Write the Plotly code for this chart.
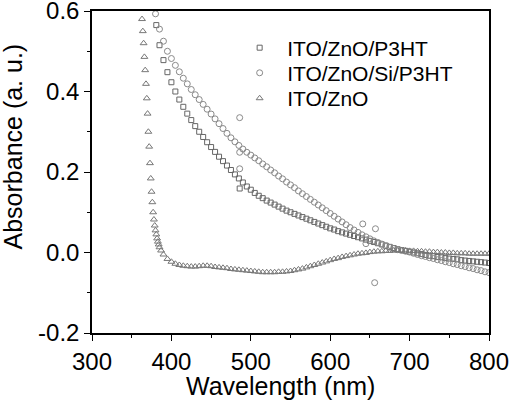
import plotly.graph_objects as go

# ---------------- data ----------------
# ITO/ZnO (triangles)
zno_wl = [363, 364, 365, 366, 367, 368, 369, 370, 371, 372, 373, 374, 375, 376, 377, 378, 379, 380,
          381, 382, 383, 384, 385, 387, 390, 395, 400, 405, 410, 415, 420, 425, 430, 435, 440, 445,
          450, 455, 460, 465, 470, 475, 480, 485, 490, 495, 500, 505, 510, 515, 520, 525, 530, 535,
          540, 545, 550, 555, 560, 565, 570, 575, 580, 585, 590, 595, 600, 605, 610, 615, 620, 625,
          630, 635, 640, 645, 650, 655, 660, 665, 670, 675, 680, 685, 690, 695, 700, 705, 710, 715,
          720, 725, 730, 735, 740, 745, 750, 755, 760, 765, 770, 775, 780, 785, 790, 795, 800]
zno_abs = [0.58, 0.55, 0.52, 0.486, 0.453, 0.419, 0.383, 0.345, 0.30, 0.263, 0.222, 0.184, 0.151,
           0.125, 0.10, 0.082, 0.067, 0.055,
           0.045, 0.035, 0.027, 0.020, 0.013, 0.005, -0.005, -0.016, -0.023, -0.028, -0.031, -0.033,
           -0.034, -0.035, -0.035, -0.034, -0.033, -0.033, -0.034, -0.036, -0.037, -0.038, -0.039,
           -0.041, -0.042, -0.043, -0.044, -0.045, -0.046, -0.047, -0.048, -0.049, -0.049, -0.049,
           -0.049, -0.048, -0.048, -0.047, -0.046, -0.044, -0.042, -0.040, -0.037, -0.034, -0.031,
           -0.028, -0.025, -0.022, -0.019, -0.016, -0.014, -0.011, -0.009, -0.007, -0.005, -0.003,
           -0.002, -0.001, 0.001, 0.002, 0.003, 0.003, 0.004, 0.004, 0.005, 0.005, 0.005, 0.005,
           0.004, 0.004, 0.003, 0.003, 0.002, 0.002, 0.001, 0.001, 0.000, 0.000, -0.001, -0.001,
           -0.002, -0.002, -0.002, -0.003, -0.003, -0.003, -0.003, -0.003, -0.003]

# ITO/ZnO/P3HT (squares)
p3ht_wl = [381, 385, 390, 395, 400, 405, 410, 415, 420, 425, 430, 435, 440, 445, 450, 455, 460, 465,
           470, 475, 480, 485, 486, 490, 495, 500, 505, 510, 515, 520, 525, 530, 535, 540, 545, 550,
           555, 560, 565, 570, 575, 580, 585, 590, 595, 600, 605, 610, 615, 620, 625, 630, 635, 640,
           645, 650, 655, 660, 665, 670, 675, 680, 685, 690, 695, 700, 705, 710, 715, 720, 725, 730,
           735, 740, 745, 750, 755, 760, 765, 770, 775, 780, 785, 790, 795, 800]
p3ht_abs = [0.565, 0.515, 0.478, 0.448, 0.423, 0.400, 0.380, 0.362, 0.345, 0.329, 0.314, 0.300,
            0.287, 0.274, 0.262, 0.250, 0.238, 0.227, 0.216, 0.205, 0.194, 0.184, 0.159, 0.174,
            0.164, 0.156, 0.148, 0.141, 0.135, 0.129, 0.124, 0.119, 0.114, 0.109, 0.104, 0.100,
            0.096, 0.092, 0.088, 0.084, 0.080, 0.076, 0.072, 0.068, 0.064, 0.060, 0.057, 0.053,
            0.050, 0.047, 0.044, 0.041, 0.038, 0.035, 0.032, 0.029, 0.026, 0.023, 0.020, 0.017,
            0.014, 0.011, 0.008, 0.006, 0.004, 0.002, 0.000, -0.002, -0.004, -0.006, -0.008,
            -0.009, -0.011, -0.012, -0.014, -0.015, -0.016, -0.017, -0.019, -0.020, -0.021,
            -0.022, -0.023, -0.024, -0.025, -0.026]

# ITO/ZnO/Si/P3HT (circles)
si_wl = [380, 385, 390, 395, 400, 405, 410, 415, 420, 425, 430, 435, 440, 445, 450, 455, 460, 465,
         470, 475, 480, 485, 486, 486, 486, 490, 495, 500, 505, 510, 515, 520, 525, 530, 535, 540,
         545, 550, 555, 560, 565, 570, 575, 580, 585, 590, 595, 600, 605, 610, 615, 620, 625, 630,
         635, 640, 641, 645, 645, 650, 655, 656, 657, 660, 665, 670, 675, 680, 685, 690, 695, 700,
         705, 710, 715, 720, 725, 730, 735, 740, 745, 750, 755, 760, 765, 770, 775, 780, 785, 790,
         795, 800]
si_abs = [0.593, 0.555, 0.525, 0.500, 0.482, 0.465, 0.449, 0.433, 0.419, 0.405, 0.392, 0.380,
          0.368, 0.356, 0.344, 0.332, 0.320, 0.308, 0.296, 0.285, 0.275, 0.266, 0.335, 0.249,
          0.208, 0.257, 0.249, 0.242, 0.235, 0.228, 0.220, 0.213, 0.205, 0.198, 0.190, 0.183,
          0.175, 0.168, 0.161, 0.153, 0.146, 0.139, 0.132, 0.125, 0.118, 0.111, 0.104, 0.097,
          0.090, 0.083, 0.076, 0.069, 0.062, 0.056, 0.050, 0.044, 0.071, 0.039, 0.022, 0.034,
          0.029, -0.075, 0.059, 0.025, 0.021, 0.017, 0.013, 0.010, 0.007, 0.005, 0.003, 0.001,
          -0.002, -0.005, -0.008, -0.010, -0.013, -0.015, -0.018, -0.020, -0.023, -0.025, -0.028,
          -0.030, -0.033, -0.035, -0.038, -0.040, -0.043, -0.045, -0.048, -0.050]

x_ticks = [300, 400, 500, 600, 700, 800]
y_ticks = [-0.2, 0.0, 0.2, 0.4, 0.6]
y_tick_text = ["-0.2", "0.0", "0.2", "0.4", "0.6"]

FONT = "Arial, Liberation Sans, sans-serif"

fig = go.Figure()
fig.add_trace(go.Scatter(x=p3ht_wl, y=p3ht_abs, mode="markers", name="ITO/ZnO/P3HT",
                         legend="legend",
                         marker=dict(symbol="square-open", size=5, color="#666666",
                                     line=dict(width=1))))
fig.add_trace(go.Scatter(x=si_wl, y=si_abs, mode="markers", name="ITO/ZnO/Si/P3HT",
                         legend="legend2",
                         marker=dict(symbol="circle-open", size=6, color="#8a8a8a",
                                     line=dict(width=1))))
fig.add_trace(go.Scatter(x=zno_wl, y=zno_abs, mode="markers", name="ITO/ZnO",
                         legend="legend3",
                         marker=dict(symbol="triangle-up-open", size=6, color="#777777",
                                     line=dict(width=1))))

axis_common = dict(showgrid=False, zeroline=False, showline=True, linecolor="black",
                   linewidth=1.5, mirror=True, ticks="outside", ticklen=6, tickwidth=1.2,
                   tickcolor="black", automargin=False, ticklabeloverflow="allow",
                   tickfont=dict(family=FONT, size=24, color="black"))

fig.update_xaxes(range=[300, 800], tickvals=x_ticks,
                 minor=dict(ticks="outside", ticklen=3, dtick=50, tickcolor="black", tickwidth=1.2),
                 **axis_common)
fig.update_yaxes(range=[-0.2, 0.6000001], tickvals=y_ticks, ticktext=y_tick_text,
                 minor=dict(ticks="outside", ticklen=3, dtick=0.1, tickcolor="black", tickwidth=1.2),
                 **axis_common)

fig.add_annotation(text="Absorbance (a. u.)", xref="paper", yref="paper", x=-0.2, y=0.578,
                   xanchor="center", yanchor="middle", textangle=-90, showarrow=False,
                   font=dict(family=FONT, size=25, color="black"))
fig.add_annotation(text="Wavelength (nm)", xref="paper", yref="paper", x=0.476, y=-0.165,
                   xanchor="center", yanchor="middle", showarrow=False,
                   font=dict(family=FONT, size=25, color="black"))

leg_common = dict(x=0.353, xanchor="left", yanchor="middle", bgcolor="rgba(0,0,0,0)",
                  itemwidth=45, font=dict(family=FONT, size=21, color="black"))

fig.update_layout(
    width=510, height=403,
    margin=dict(l=92, r=21, t=11, b=70, autoexpand=False),
    paper_bgcolor="white", plot_bgcolor="white",
    showlegend=True,
    legend=dict(y=0.885, **leg_common),
    legend2=dict(y=0.807, **leg_common),
    legend3=dict(y=0.728, **leg_common),
)

fig.write_html("out.html", config={"displayModeBar": False},
               post_script="document.body.style.margin='0';")
